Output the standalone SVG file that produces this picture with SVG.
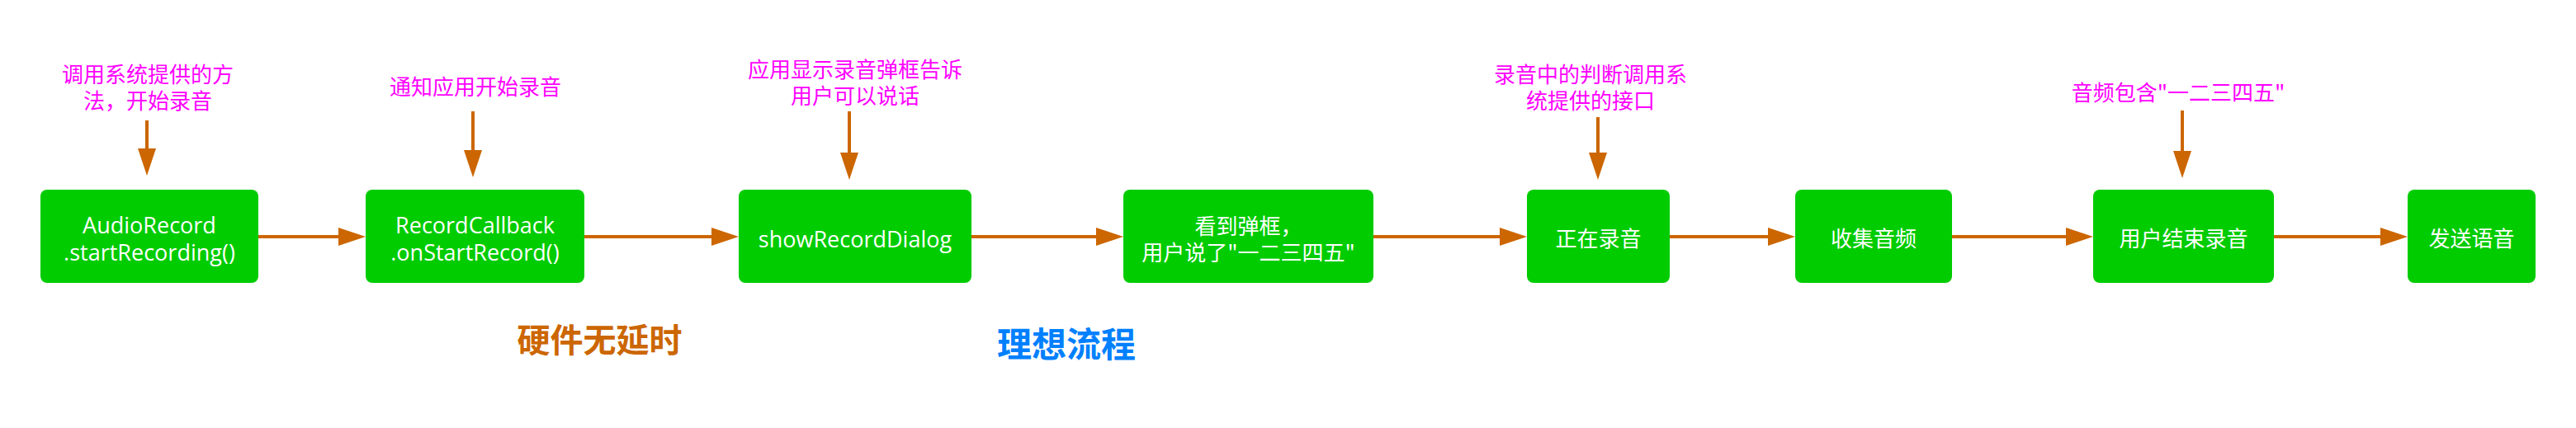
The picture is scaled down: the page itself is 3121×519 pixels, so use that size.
<svg xmlns="http://www.w3.org/2000/svg" width="3121" height="519" viewBox="0 0 3121 519">
<style>
.box{fill:#00CC00;}
.lat{font-family:"Open Sans","Noto Sans CJK SC",sans-serif;font-size:27px;fill:#FFFFFF;text-anchor:middle;}
.cjk{font-family:"Noto Sans CJK SC",sans-serif;font-size:26px;fill:#FFFFFF;text-anchor:middle;}
.note{font-family:"Noto Sans CJK SC",sans-serif;font-size:26px;fill:#FF00FF;text-anchor:middle;}
.edge{stroke:#CC6600;stroke-width:4;fill:none;marker-end:url(#arr);}
.title{font-family:"Noto Sans CJK SC",sans-serif;font-weight:700;text-anchor:middle;}
</style>
<defs>
<marker id="arr" markerUnits="userSpaceOnUse" markerWidth="33" markerHeight="22" refX="13" refY="11" orient="auto">
<path d="M0,0 L33,11 L0,22 Z" fill="#CC6600"/>
</marker>
</defs>
<rect width="3121" height="519" fill="#FFFFFF"/>
<g id="connectors">
<line class="edge" x1="313" y1="287" x2="423" y2="287"/>
<line class="edge" x1="708" y1="287" x2="875" y2="287"/>
<line class="edge" x1="1177" y1="287" x2="1341" y2="287"/>
<line class="edge" x1="1664" y1="287" x2="1830" y2="287"/>
<line class="edge" x1="2023" y1="287" x2="2155" y2="287"/>
<line class="edge" x1="2365" y1="287" x2="2516" y2="287"/>
<line class="edge" x1="2755" y1="287" x2="2897" y2="287"/>
<line class="edge" x1="178" y1="146" x2="178" y2="193"/>
<line class="edge" x1="573" y1="135" x2="573" y2="195"/>
<line class="edge" x1="1029" y1="135" x2="1029" y2="198"/>
<line class="edge" x1="1936" y1="142" x2="1936" y2="198"/>
<line class="edge" x1="2644" y1="134" x2="2644" y2="196"/>
</g>
<g id="n1"><rect class="box" x="49" y="230" width="264" height="113" rx="8"/><text class="lat" x="181" y="283">AudioRecord</text><text class="lat" x="181" y="316">.startRecording()</text></g>
<g id="n2"><rect class="box" x="443" y="230" width="265" height="113" rx="8"/><text class="lat" x="575.5" y="283">RecordCallback</text><text class="lat" x="575.5" y="316">.onStartRecord()</text></g>
<g id="n3"><rect class="box" x="895" y="230" width="282" height="113" rx="8"/><text class="lat" x="1036" y="300">showRecordDialog</text></g>
<g id="n4"><rect class="box" x="1361" y="230" width="303" height="113" rx="8"/><text class="cjk" x="1512.5" y="284">看到弹框，</text><text class="cjk" x="1512.5" y="316">用户说了"一二三四五"</text></g>
<g id="n5"><rect class="box" x="1850" y="230" width="173" height="113" rx="8"/><text class="cjk" x="1936.5" y="299">正在录音</text></g>
<g id="n6"><rect class="box" x="2175" y="230" width="190" height="113" rx="8"/><text class="cjk" x="2270" y="299">收集音频</text></g>
<g id="n7"><rect class="box" x="2536" y="230" width="219" height="113" rx="8"/><text class="cjk" x="2645.5" y="299">用户结束录音</text></g>
<g id="n8"><rect class="box" x="2917" y="230" width="155" height="113" rx="8"/><text class="cjk" x="2994.5" y="299">发送语音</text></g>
<g id="note1"><text class="note" x="179" y="100">调用系统提供的方</text><text class="note" x="179" y="132">法，开始录音</text></g>
<g id="note2"><text class="note" x="576" y="115">通知应用开始录音</text></g>
<g id="note3"><text class="note" x="1036" y="94">应用显示录音弹框告诉</text><text class="note" x="1036" y="126">用户可以说话</text></g>
<g id="note4"><text class="note" x="1927" y="100">录音中的判断调用系</text><text class="note" x="1927" y="132">统提供的接口</text></g>
<g id="note5"><text class="note" x="2639" y="122">音频包含"一二三四五"</text></g>
<g id="title1"><text class="title" x="726.5" y="427" font-size="40" fill="#CC6600">硬件无延时</text></g>
<g id="title2"><text class="title" x="1292" y="433" font-size="42" fill="#0080FF">理想流程</text></g>
</svg>
